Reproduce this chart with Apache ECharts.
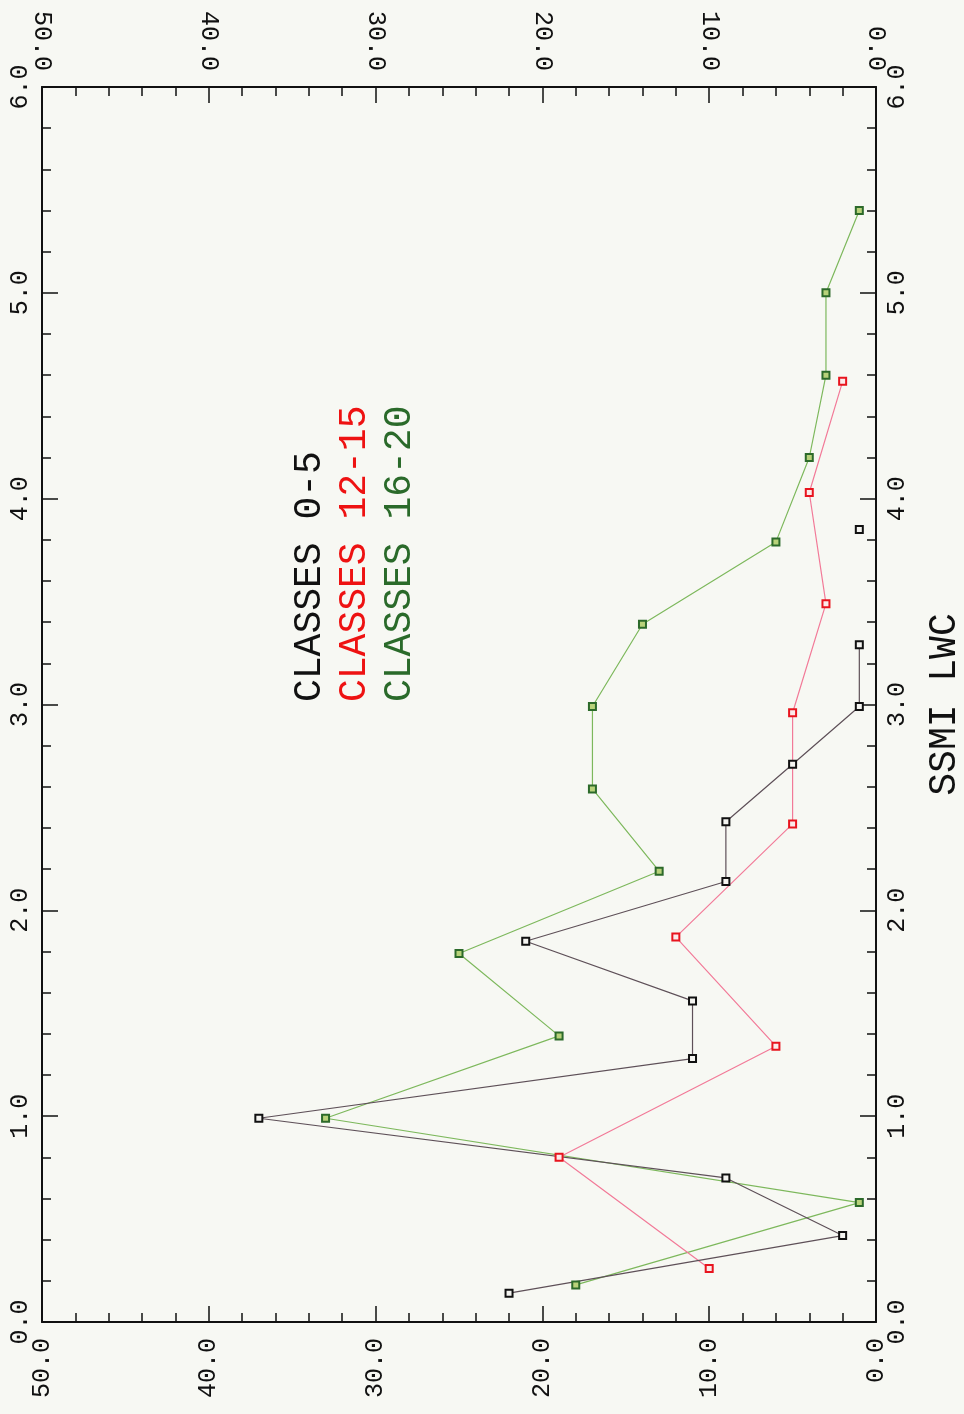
<!DOCTYPE html>
<html>
<head>
<meta charset="utf-8">
<script src="https://cdn.jsdelivr.net/npm/echarts@6/dist/echarts.min.js"></script>
<style>
html,body{margin:0;padding:0;background:#f7f8f3;}
#chart{width:964px;height:1414px;}
</style>
</head>
<body>
<div id="chart"></div>
<script>
// SSMI LWC (bin centres) and counts for each class group
var blackLwc   = [0.14, 0.42, 0.70, 0.99, 1.28, 1.56, 1.85, 2.14, 2.43, 2.71, 2.99, 3.29, 3.57, 3.85];
var blackCount = [22,   2,    9,    37,   11,   11,   21,   9,    9,    5,    1,    1,    null, 1];

var redLwc   = [0.26, 0.80, 1.34, 1.87, 2.42, 2.96, 3.49, 4.03, 4.57];
var redCount = [10,   19,   6,    12,   5,    5,    3,    4,    2];

var greenLwc   = [0.18, 0.58, 0.99, 1.39, 1.79, 2.19, 2.59, 2.99, 3.39, 3.79, 4.20, 4.60, 5.00, 5.40];
var greenCount = [18,   1,    33,   19,   25,   13,   17,   17,   14,   6,    4,    3,    3,    1];

var legendLabels = ['CLASSES 0-5', 'CLASSES 12-15', 'CLASSES 16-20'];
var axisTitle = 'SSMI LWC';

function pairs(lwc, cnt) {
  return lwc.map(function (v, i) { return [cnt[i] == null ? null : cnt[i], v]; });
}

var FONT = 'Liberation Mono';
var chart = echarts.init(document.getElementById('chart'), null, {renderer: 'canvas'});

function countAxis(pos) {
  return {
    type: 'value', position: pos, min: 0, max: 50, interval: 10, inverse: true,
    axisLine: {show: true, onZero: false, lineStyle: {color: '#111', width: 2}},
    axisTick: {show: true, inside: true, length: 16, lineStyle: {color: '#111', width: 1.5}},
    minorTick: {show: true, splitNumber: 5, length: 9, lineStyle: {color: '#111', width: 1.5}},
    splitLine: {show: false},
    axisLabel: {show: true, rotate: 90, margin: 16, fontFamily: FONT, fontSize: 25, color: '#111',
      formatter: function (v) { return v.toFixed(1); }}
  };
}
function lwcAxis(pos, withName) {
  var a = {
    type: 'value', position: pos, min: 0, max: 6, interval: 1,
    axisLine: {show: true, onZero: false, lineStyle: {color: '#111', width: 2}},
    axisTick: {show: true, inside: true, length: 16, lineStyle: {color: '#111', width: 1.5}},
    minorTick: {show: true, splitNumber: 5, length: 9, lineStyle: {color: '#111', width: 1.5}},
    splitLine: {show: false},
    axisLabel: {show: true, rotate: 90, margin: 9, fontFamily: FONT, fontSize: 25, color: '#111',
      formatter: function (v) { return v.toFixed(1); }}
  };
  if (withName) {
    a.name = axisTitle;
    a.nameLocation = 'middle';
    a.nameRotate = 90;
    a.nameGap = 50;
    a.nameTextStyle = {fontFamily: FONT, fontSize: 38, color: '#111'};
  }
  return a;
}

function lineSeries(name, data, lineColor, borderColor, fill) {
  return {
    name: name, type: 'line', xAxisIndex: 0, yAxisIndex: 0,
    data: data, connectNulls: false, animation: false,
    symbol: 'rect', symbolSize: 7, showAllSymbol: true,
    lineStyle: {color: lineColor, width: 1.2},
    itemStyle: {color: fill, borderColor: borderColor, borderWidth: 2},
    z: 3
  };
}

var option = {
  backgroundColor: '#f7f8f3',
  animation: false,
  grid: {left: 42, right: 88, top: 87, bottom: 92, containLabel: false, outerBoundsMode: 'none'},
  xAxis: [countAxis('bottom'), countAxis('top')],
  yAxis: [lwcAxis('left', false), lwcAxis('right', true)],
  series: [
    lineSeries(legendLabels[2], pairs(greenLwc, greenCount), '#7db85c', '#2c6a2a', '#b8d27a'),
    lineSeries(legendLabels[1], pairs(redLwc, redCount), '#f27a98', '#e8141e', '#fbeaea'),
    lineSeries(legendLabels[0], pairs(blackLwc, blackCount), '#5e5058', '#111111', '#f4f4f0')
  ],
  graphic: [
    {type: 'text', x: 310, y: 702, rotation: Math.PI / 2,
     style: {text: legendLabels[0], fontFamily: FONT, fontSize: 38, fill: '#111', textAlign: 'left', textVerticalAlign: 'middle'}},
    {type: 'text', x: 355, y: 702, rotation: Math.PI / 2,
     style: {text: legendLabels[1], fontFamily: FONT, fontSize: 38, fill: '#ee1212', textAlign: 'left', textVerticalAlign: 'middle'}},
    {type: 'text', x: 400, y: 702, rotation: Math.PI / 2,
     style: {text: legendLabels[2], fontFamily: FONT, fontSize: 38, fill: '#2a6a2a', textAlign: 'left', textVerticalAlign: 'middle'}}
  ]
};
chart.setOption(option);
</script>
</body>
</html>
